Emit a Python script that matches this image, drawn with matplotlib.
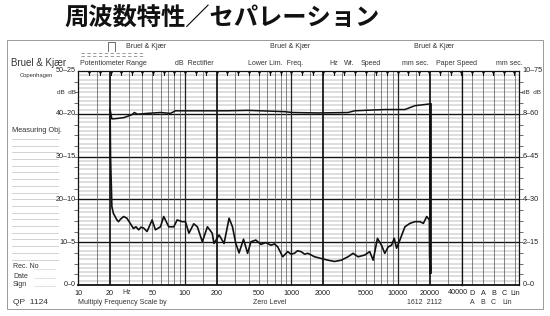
import numpy as np
import matplotlib
matplotlib.use("Agg")
import matplotlib.pyplot as plt

plt.rcParams['font.family'] = ['Liberation Sans', 'DejaVu Sans']

# ---------------- data (read from the recording) ----------------
freq_upper = [20, 20.8, 23.2, 26.8, 29.8, 32.1, 33.8, 36.3, 44.5, 59.4, 73.8, 82.3,
              122, 253, 391, 520, 865, 1038, 1786, 3428, 3955, 7586, 11720, 14565,
              20000, 20000]
db_upper = [41.0, 38.8, 38.9, 39.1, 39.5, 39.8, 40.3, 39.9, 40.1, 40.3, 40.1, 40.7,
            40.7, 40.7, 40.8, 40.7, 40.5, 40.3, 40.2, 40.3, 40.7, 41.0, 41.0, 41.9,
            42.3, 3.0]

freq_sep = [20, 20.2, 20.8, 21.5, 22.3, 23.2, 24.0, 24.9, 26.8, 28.8, 30.9, 33.2,
            35.0, 37.1, 39.0, 41.3, 44.5, 49.6, 53.3, 59.4, 63.8, 71.1, 79.3, 85.3,
            95.1, 102, 110, 122, 132, 147, 164, 182, 189, 211, 235, 262, 282, 303,
            325, 358, 391, 420, 467, 521, 580, 648, 700, 750, 835, 931, 1000, 1075,
            1150, 1242, 1340, 1438, 1550, 1660, 1919, 2220, 2560, 2963, 3428, 3820,
            4258, 4918, 5478, 5900, 6475, 7063, 7586, 8167, 8775, 9306, 9790, 10512,
            11720, 13066, 14565, 16235, 17470, 18780, 19900, 20000, 20300, 20600]
db_sep = [41.0, 30.0, 18.3, 16.7, 16.0, 15.2, 14.8, 15.3, 16.0, 15.6, 14.4, 13.2,
          13.6, 12.9, 13.5, 13.3, 12.5, 15.2, 12.9, 13.6, 16.0, 13.6, 13.6, 15.2,
          14.8, 14.8, 12.1, 14.3, 13.6, 10.1, 13.6, 12.1, 9.7, 11.7, 9.7, 15.6,
          13.6, 9.7, 7.5, 10.7, 7.4, 10.1, 10.5, 9.5, 9.9, 9.3, 9.6, 8.9, 6.6, 7.8,
          7.2, 7.4, 8.0, 7.8, 7.2, 7.4, 7.0, 6.6, 6.2, 5.8, 5.5, 5.8, 6.6, 7.4, 6.6,
          7.0, 7.8, 5.8, 10.9, 9.3, 7.4, 8.9, 9.3, 10.9, 8.6, 10.5, 13.6, 14.4,
          14.8, 14.8, 14.4, 16.0, 15.2, 6.6, 3.1, 4.3]

freq_ticks = [10, 20, 50, 100, 200, 500, 1000, 2000, 5000, 10000, 20000]
freq_labels = ['10', '20', '50', '100', '200', '500', '1000', '2000', '5000',
               '10000', '20000']
side_labels = ['D', 'A', 'B', 'C', 'Lin']
left_db = [50, 40, 30, 20, 10, 0]
left_labels = ['50\u201325', '40\u201320', '30\u201315', '20\u201310', '10\u20135', '0\u20130']
right_labels = ['10\u201375', '8\u201360', '6\u201345', '4\u201330', '2\u201315', '0\u20130']

# ---------------- figure ----------------
W, H = 550, 316
fig = plt.figure(figsize=(5.5, 3.16), dpi=100)
fig.patch.set_facecolor('white')

def fx(px):
    return px / W

def fy(py):
    return 1 - py / H

L, R40, R, T, B = 78, 461.7, 519, 71, 285
ax = fig.add_axes([fx(L), fy(B), fx(R40) - fx(L), fy(T) - fy(B)])
sx = fig.add_axes([fx(R40), fy(B), fx(R) - fx(R40), fy(T) - fy(B)])

for a in (ax, sx):
    a.set_facecolor('white')
    a.set_ylim(0, 50)
    for db in range(1, 50):
        if db % 10 == 0:
            a.axhline(db, color='#151515', lw=1.0, zorder=1)
        else:
            a.axhline(db, color='#7a7a7a', lw=0.35, zorder=1)
    for s in a.spines.values():
        s.set_color('#111111')
        s.set_linewidth(0.9)
    a.spines['bottom'].set_linewidth(1.3)

ax.set_xscale('log')
ax.set_xlim(10, 40000)
minor_f = [m * d for d in (10, 100, 1000, 10000) for m in (1.5, 3, 4, 5, 6, 7, 8, 9)
           if m * d < 40000]
for f in minor_f:
    ax.axvline(f, color='#555555', lw=0.5, zorder=1)
for f in (100, 1000, 10000):
    ax.axvline(f, color='#222222', lw=0.9, zorder=1)
for f in (20, 200, 2000, 20000):
    ax.axvline(f, color='#111111', lw=1.25, zorder=1)

ax.set_xticks(freq_ticks, freq_labels)
ax.xaxis.set_minor_locator(matplotlib.ticker.NullLocator())
ax.tick_params(axis='x', length=0, pad=3.5, labelsize=5.2, colors='#222222')
ax.set_yticks([])
ax.set_yticks(np.arange(2.5, 50, 2.5), minor=True)
ax.tick_params(axis='y', which='minor', length=3, width=0.5, direction='out',
               colors='#333333')

sx.set_xlim(0, 5.36)
for k in range(1, 6):
    sx.axvline(k, color='#555555', lw=0.5, zorder=1)
sx.set_xticks(range(1, 6), side_labels)
sx.tick_params(axis='x', length=0, pad=3.5, labelsize=5.2, colors='#222222')
sx.set_yticks([])
sx.yaxis.tick_right()
sx.set_yticks(np.arange(2.5, 50, 2.5), minor=True)
sx.tick_params(axis='y', which='minor', length=3, width=0.5, direction='out',
               colors='#333333', right=True, left=False)
sx.spines['left'].set_linewidth(0.9)

# curves
ax.plot(freq_upper[:-1], db_upper[:-1], color='#111111', lw=1.1, zorder=3)
ax.plot(freq_upper[-2:], db_upper[-2:], color='#111111', lw=2.0, zorder=3)
ax.plot(freq_sep, db_sep, color='#111111', lw=1.2, zorder=3)

# y labels
for v, lab in zip(left_db, left_labels):
    ax.text(-0.006, v, lab, transform=ax.get_yaxis_transform(), ha='right',
            va='center', fontsize=5.2, color='#222222')
for v, lab in zip(left_db, right_labels):
    sx.text(1.06, v, lab, transform=sx.get_yaxis_transform(), ha='left',
            va='center', fontsize=5.2, color='#222222')
ax.text(-0.006, 45, 'dB  dB', transform=ax.get_yaxis_transform(), ha='right',
        va='center', fontsize=4.6, color='#333333')
sx.text(1.06, 45, 'dB  dB', transform=sx.get_yaxis_transform(), ha='left',
        va='center', fontsize=4.6, color='#333333')

# ---------------- overlay: paper decorations & text ----------------
ov = fig.add_axes([0, 0, 1, 1])
ov.set_xlim(0, W)
ov.set_ylim(H, 0)
ov.axis('off')
ov.patch.set_alpha(0)

ov.text(222, 18, '周波数特性／セパレーション', ha='center', va='center', fontsize=17.5,
        fontweight='bold', color='#111111',
        family=['Noto Sans CJK JP', 'DejaVu Sans'])

ov.add_patch(plt.Rectangle((7, 40), 536, 269, fill=False, lw=0.7, ec='#9a9a9a'))

txt = dict(color='#333333', va='center')
for xx in (146, 290, 434):
    ov.text(xx, 47, 'Bruel & Kjær', ha='center', fontsize=5, **txt)
ov.plot([108, 108, 115, 115], [51, 42, 42, 51], color='#555555', lw=0.6)
for yy in (52.5, 56):
    ov.plot([81, 144], [yy, yy], color='#8a8a8a', lw=0.6, ls=(0, (4, 3)))

ov.text(11, 63, 'Bruel & Kjær', ha='left', fontsize=7, **txt)
ov.text(20, 75, 'Copenhagen', ha='left', fontsize=4.2, **txt)
ov.text(12, 130, 'Measuring Obj.', ha='left', fontsize=5.3, **txt)
for yy in np.arange(139, 260, 6.7):
    ov.plot([12, 58], [yy, yy], color='#b0b0b0', lw=0.4)
for yy, lab in ((267, 'Rec. No'), (276, 'Date'), (284, 'Sign')):
    ov.text(13, yy, lab, ha='left', fontsize=5, **txt)
    ov.plot([34, 56], [yy + 1.5, yy + 1.5], color='#999999', lw=0.4, ls=(0, (1, 1)))

header = [(80, 'Potentiometer Range'), (175, 'dB  Rectifier'),
          (248, 'Lower Lim.  Freq.'), (329, 'Hz'), (344, 'Wr.'), (361, 'Speed'),
          (402, 'mm sec.'), (436, 'Paper Speed'), (496, 'mm sec.')]
for xx, lab in header:
    ov.text(xx, 63.5, lab, ha='left', fontsize=5, **txt)

for xx in np.arange(89.3, 517, 10.63):
    ov.plot([xx, xx], [71, 75], color='#111111', lw=0.7)
    ov.plot(xx, 72.5, marker='v', ms=2.2, color='#111111', mec='none')

ov.text(127, 292.5, 'Hz', ha='center', fontsize=5, **txt)
ov.text(467.5, 292.5, '40000', ha='right', fontsize=5.2, color='#222222', va='center')
ov.text(13, 302, 'QP  1124', ha='left', fontsize=6, **txt)
ov.text(78, 302, 'Multiply Frequency Scale by', ha='left', fontsize=5, **txt)
ov.text(253, 302, 'Zero Level', ha='left', fontsize=5, **txt)
ov.text(407, 302, '1612  2112', ha='left', fontsize=5, **txt)
for xx, lab in ((472, 'A'), (483, 'B'), (493.5, 'C'), (507, 'Lin')):
    ov.text(xx, 302, lab, ha='center', fontsize=5, **txt)

fig.savefig('out.png', dpi=100, facecolor=fig.get_facecolor())
